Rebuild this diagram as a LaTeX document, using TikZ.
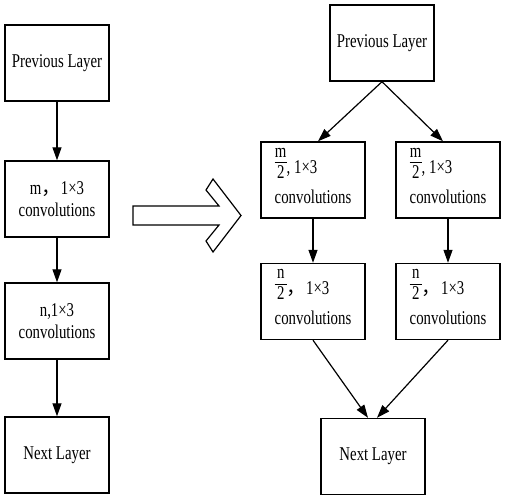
\documentclass[tikz,border=0pt]{standalone}
\usepackage{fontspec}
\setmainfont{Liberation Serif}[FakeStretch=0.76]
\newfontfamily\cjk{Noto Sans CJK SC}
\usetikzlibrary{arrows.meta,calc}
\newcommand{\hfracx}[2]{\makebox[0pt][l]{\makebox[12pt]{\raisebox{16pt}{#1}}}\makebox[0pt][l]{\rule[10pt]{12pt}{0.8pt}}\makebox[12pt]{\raisebox{-5pt}{#2}}}
\newcommand{\halfbox}[2]{\begin{tabular}{@{}l@{}}\rule{0pt}{27pt}\hfracx{#1}{2}#2\\[8pt]convolutions\rule[-11pt]{0pt}{11pt}\end{tabular}}
\begin{document}
\begin{tikzpicture}[x=1pt,y=-1pt,
  box/.style={draw,line width=1.4pt,minimum width=104pt,minimum height=76pt,inner sep=0pt,align=center,
    font=\fontsize{19.5}{22}\selectfont},
  conn/.style={draw,line width=1.2pt,-{Triangle[length=13pt,width=9pt]}},
  bigarrow/.style={draw,line width=1.2pt,fill=white,line join=miter}]
\useasboundingbox (0,0) rectangle (510,503);
% left column
\node[box] (lprev) at (57,63) {Previous Layer};
\node[box] (lm) at (57,199) {m{\cjk ，}1×3\\convolutions};
\node[box] (ln) at (57,321) {n,1×3\\convolutions};
\node[box] (lnext) at (57,455) {Next Layer};
\draw[conn] (lprev) -- (lm);
\draw[conn] (lm) -- (ln);
\draw[conn] (ln) -- (lnext);
% big arrow
\draw[bigarrow] (133,206) -- (219,206) -- (206,190) -- (213,179) -- (241,215.5) -- (213,252) -- (206,241) -- (219,225) -- (133,225) -- cycle;
% right side
\node[box] (rprev) at (382,43) {Previous Layer};
\node[box] (ma) at (313,180) {\halfbox{m}{, 1×3}};
\node[box] (mb) at (448,180) {\halfbox{m}{, 1×3}};
\node[box] (na) at (313,301.5) {\halfbox{n}{{\cjk ，}1×3}};
\node[box] (nb) at (448,301.5) {\halfbox{n}{{\cjk ，}1×3}};
\node[box] (rnext) at (373,456.5) {Next Layer};
\draw[conn] (rprev.south) -- ($(ma.north)+(5,0)$);
\draw[conn] (rprev.south) -- ($(mb.north)+(-5,0)$);
\draw[conn] (ma) -- (na);
\draw[conn] (mb) -- (nb);
\draw[conn] (na.south) -- ($(rnext.north)+(-5,0)$);
\draw[conn] (nb.south) -- ($(rnext.north)+(4,0)$);
\end{tikzpicture}
\end{document}
